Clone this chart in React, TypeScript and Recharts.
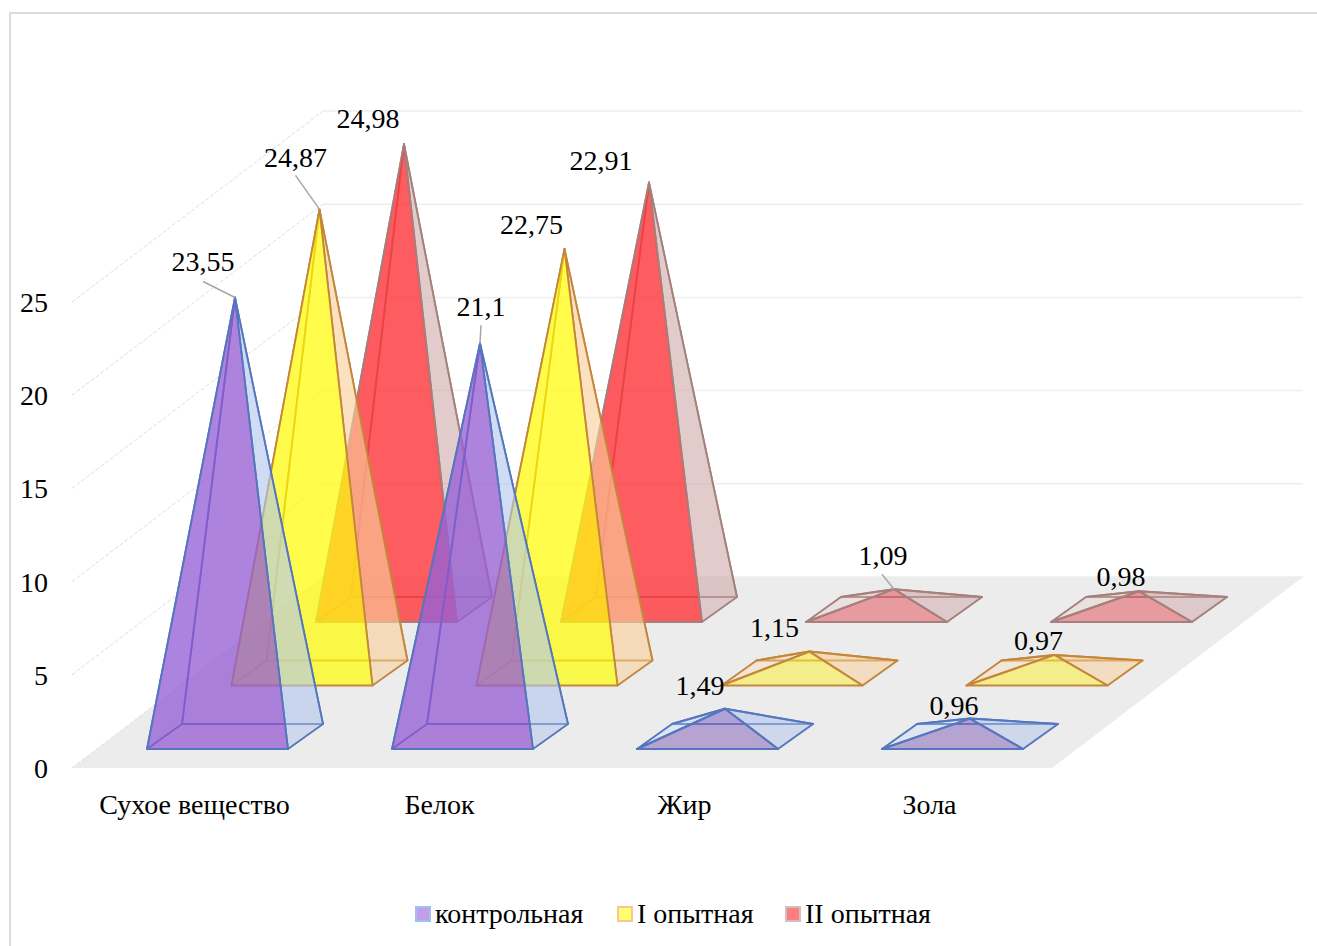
import { Bar, BarChart, LabelList, XAxis, YAxis } from "recharts";

const categories = ["Сухое вещество", "Белок", "Жир", "Зола"];
const control = [23.55, 21.1, 1.49, 0.96];
const firstTrial = [24.87, 22.75, 1.15, 0.97];
const secondTrial = [24.98, 22.91, 1.09, 0.98];
const yTicks = [0, 5, 10, 15, 20, 25];

const chartData = categories.map((name, i) => ({
  name,
  control: control[i],
  firstTrial: firstTrial[i],
  secondTrial: secondTrial[i],
}));

const FONT = '"Liberation Serif", serif';
const FONT_SIZE = 28;

// depth of the floor, in screen pixels
const FLOOR_DX = 251;
const FLOOR_DY = -191;
const PLOT_WIDTH = 980;

// how far a pyramid base runs backwards, and where each row stands on the floor
const BASE_DX = 35;
const BASE_DY = -25;
const BAR_WIDTH = 141;
const rowOffset = (row: number) => ({ dx: 23 + 84.5 * row, dy: -19 - 63.5 * row });

const CHART_MARGIN = { top: 302, right: 265, bottom: 118, left: 0 };

const styles = [
  {
    key: "control",
    name: "контрольная",
    front: "rgb(145,83,208)",
    frontOpacity: 0.7,
    flatFront: "rgb(136,104,190)",
    side: "rgb(175,195,232)",
    back: "rgb(190,215,255)",
    stroke: "#5577bd",
    swatch: "#c49ee8",
    swatchBorder: "#9cc2f0",
  },
  {
    key: "firstTrial",
    name: "I опытная",
    front: "rgb(255,255,0)",
    frontOpacity: 0.68,
    flatFront: "rgb(250,238,60)",
    side: "rgb(248,205,150)",
    back: "rgb(255,215,170)",
    stroke: "#c4873a",
    swatch: "#ffff70",
    swatchBorder: "#fbc58f",
  },
  {
    key: "secondTrial",
    name: "II опытная",
    front: "rgb(255,50,55)",
    frontOpacity: 0.78,
    flatFront: "rgb(228,90,98)",
    side: "rgb(205,165,165)",
    back: "rgb(225,195,195)",
    stroke: "#a5807c",
    swatch: "#ff7f7f",
    swatchBorder: "#d0c0c0",
  },
];

const legendLefts = [415, 617, 785];

// label offset from the apex; leader is the point the thin line runs to
const labelOffsets: { dx: number; dy: number; leader?: [number, number] }[][] = [
  [
    { dx: -32, dy: -27, leader: [-32, -16] },
    { dx: 1, dy: -27, leader: [1, -18] },
    { dx: -25, dy: -14 },
    { dx: -16, dy: -4 },
  ],
  [
    { dx: -24, dy: -42, leader: [-24, -34] },
    { dx: -33, dy: -15 },
    { dx: -35, dy: -15 },
    { dx: -16, dy: -5 },
  ],
  [
    { dx: -36, dy: -16 },
    { dx: -48, dy: -12 },
    { dx: -11, dy: -24, leader: [-12, -15] },
    { dx: -18, dy: -5 },
  ],
];

function WallTick({ x, y, payload }: any) {
  const startX = x + 8;
  return (
    <g>
      {payload.value === 0 && (
        <polygon
          points={`${startX},${y} ${startX + FLOOR_DX},${y + FLOOR_DY} ${startX + FLOOR_DX + PLOT_WIDTH},${y + FLOOR_DY} ${startX + PLOT_WIDTH},${y}`}
          fill="#ececec"
        />
      )}
      <line
        x1={startX}
        y1={y}
        x2={startX + FLOOR_DX}
        y2={y + FLOOR_DY}
        stroke="#dedede"
        strokeDasharray="4 2"
      />
      <line
        x1={startX + FLOOR_DX}
        y1={y + FLOOR_DY}
        x2={startX + FLOOR_DX + PLOT_WIDTH}
        y2={y + FLOOR_DY}
        stroke="#eeeeee"
        strokeWidth={1.5}
      />
      <text
        x={x - 16}
        y={y + 10}
        textAnchor="end"
        fontFamily={FONT}
        fontSize={FONT_SIZE}
        fill="#000"
      >
        {payload.value}
      </text>
    </g>
  );
}

function Pyramid({ x, y, width, height, row }: any) {
  const style = styles[row];
  const { dx, dy } = rowOffset(row);
  const baseY = y + height + dy;
  const fl = [x + dx, baseY];
  const fr = [x + dx + width, baseY];
  const br = [fr[0] + BASE_DX, baseY + BASE_DY];
  const bl = [fl[0] + BASE_DX, baseY + BASE_DY];
  const apex = [fl[0] + width / 2 + BASE_DX / 2, baseY + BASE_DY / 2 - height];
  const isFlat = height < 60;

  const face = (pts: number[][], fill: string, opacity: number) => (
    <polygon
      points={pts.map((p) => p.join(",")).join(" ")}
      fill={fill}
      fillOpacity={opacity}
      stroke={style.stroke}
      strokeWidth={isFlat ? 2 : 1.8}
      strokeLinejoin="round"
    />
  );

  return (
    <g>
      {face([bl, br, apex], style.back, 0.25)}
      {face([fl, bl, apex], style.back, 0.3)}
      {face([fr, br, apex], style.side, 0.5)}
      {face([fl, fr, apex], isFlat ? style.flatFront : style.front, isFlat ? 0.55 : style.frontOpacity)}
    </g>
  );
}

function PyramidLabel({ x, y, width, height, value, index, row }: any) {
  const { dx, dy } = rowOffset(row);
  const apexX = x + dx + width / 2 + BASE_DX / 2;
  const apexY = y + height + dy + BASE_DY / 2 - height;
  const offset = labelOffsets[row][index];
  return (
    <g>
      {offset.leader && (
        <line
          x1={apexX}
          y1={apexY}
          x2={apexX + offset.leader[0]}
          y2={apexY + offset.leader[1]}
          stroke="#a6a6a6"
          strokeWidth={1.5}
        />
      )}
      <text
        x={apexX + offset.dx}
        y={apexY + offset.dy}
        textAnchor="middle"
        fontFamily={FONT}
        fontSize={FONT_SIZE}
        fill="#000"
      >
        {String(value).replace(".", ",")}
      </text>
    </g>
  );
}

function PyramidLegend() {
  return (
    <>
      {styles.map((s, i) => (
        <div
          key={s.key}
          style={{
            position: "absolute",
            left: legendLefts[i],
            top: 898,
            display: "flex",
            alignItems: "center",
            gap: 4,
            fontFamily: FONT,
            fontSize: FONT_SIZE,
            lineHeight: "32px",
            whiteSpace: "nowrap",
          }}
        >
          <span
            style={{
              width: 12,
              height: 12,
              background: s.swatch,
              border: `2px solid ${s.swatchBorder}`,
            }}
          />
          {s.name}
        </div>
      ))}
    </>
  );
}

export default function App() {
  // back rows go first so the front row sits over them
  const drawOrder = [2, 1, 0];
  const layer = { position: "absolute", left: 0, top: 0 } as const;
  return (
    <div
      style={{
        position: "absolute",
        left: 0,
        top: 0,
        width: 1317,
        height: 946,
        overflow: "hidden",
        background: "#fff",
      }}
    >
      <div
        style={{
          position: "absolute",
          left: 9,
          top: 12,
          right: 0,
          bottom: 0,
          borderLeft: "2px solid #dcdcdc",
          borderTop: "2px solid #dcdcdc",
        }}
      />
      {/* floor, walls and value axis: Recharts paints axes over bars, so they get their own layer */}
      <div style={layer}>
        <BarChart width={1317} height={946} data={chartData} margin={CHART_MARGIN}>
          <YAxis
            width={72}
            domain={[0, 25]}
            ticks={yTicks}
            axisLine={false}
            tickLine={false}
            tick={<WallTick />}
          />
          <XAxis dataKey="name" height={60} axisLine={false} tickLine={false} tick={false} />
          <Bar dataKey="control" fill="none" isAnimationActive={false} />
        </BarChart>
      </div>
      <div style={layer}>
        <BarChart
          width={1317}
          height={946}
          data={chartData}
          margin={CHART_MARGIN}
          barSize={BAR_WIDTH}
          barGap={-BAR_WIDTH}
        >
          <YAxis width={72} domain={[0, 25]} ticks={yTicks} axisLine={false} tickLine={false} tick={false} />
          <XAxis
            dataKey="name"
            height={60}
            interval={0}
            axisLine={false}
            tickLine={false}
            tickMargin={20}
            tick={{ fontSize: FONT_SIZE, fontFamily: FONT, fill: "#000" }}
          />
          {drawOrder.map((row) => (
            <Bar
              key={styles[row].key}
              dataKey={styles[row].key}
              isAnimationActive={false}
              shape={(props: any) => <Pyramid {...props} row={row} />}
            >
              <LabelList
                dataKey={styles[row].key}
                content={(props: any) => <PyramidLabel {...props} row={row} />}
              />
            </Bar>
          ))}
        </BarChart>
      </div>
      <PyramidLegend />
    </div>
  );
}
